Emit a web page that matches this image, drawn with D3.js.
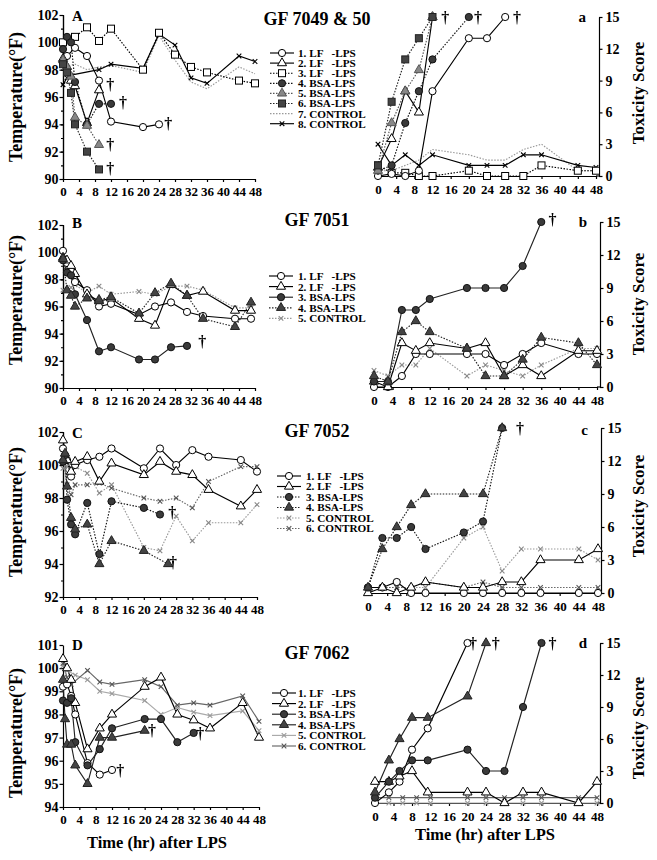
<!DOCTYPE html>
<html><head><meta charset="utf-8">
<script src="https://cdn.jsdelivr.net/npm/d3@7"></script>
<style>body{margin:0;background:#fff}</style>
</head><body><svg id="c" width="657" height="860" xmlns="http://www.w3.org/2000/svg">
<defs><filter id="gray"><feColorMatrix type="saturate" values="0"/></filter></defs>
</svg>
<script>
// ---------- tick labels / text ----------
const hourTicks = [0,4,8,12,16,20,24,28,32,36,40,44,48];
const tempTicksAB = [90,92,94,96,98,100,102];
const tempTicksC = [92,94,96,98,100,102];
const tempTicksD = [94,95,96,97,98,99,100,101];
const toxTicks = [0,3,6,9,12,15];
const titles = ['GF 7049 & 50','GF 7051','GF 7052','GF 7062'];
const letters = [['A','a'],['B','b'],['C','c'],['D','d']];
const legendA = ['1. LF   -LPS','2. LF   -LPS','3. LF   -LPS','4. BSA-LPS','5. BSA-LPS','6. BSA-LPS','7. CONTROL','8. CONTROL'];
const legendB = ['1. LF   -LPS','2. LF   -LPS','3. BSA-LPS','4. BSA-LPS','5. CONTROL'];
const legendC = ['1. LF   -LPS','2. LF   -LPS','3. BSA-LPS','4. BSA-LPS','5. CONTROL','6. CONTROL'];
const legendD = ['1. LF   -LPS','2. LF   -LPS','3. BSA-LPS','4. BSA-LPS','5. CONTROL','6. CONTROL'];

// ---------- GF 7049 & 50 : temperature ----------
const A1 = [[0,98.5],[1,99.0],[3,99.6],[6,99.0],[9,97.2],[12,94.2],[20,93.8],[24,94.0]];
const A2 = [[0,98.8],[1,98.2],[2,97.2],[3,96.8],[6,94.1],[9,96.5]];
const A3 = [[0,100.0],[3,100.4],[6,101.1],[9,100.1],[12,101.0],[20,98.0],[24,100.7],[28,99.1],[32,98.2],[36,97.8],[44,97.2],[48,97.0]];
const A4 = [[0,99.5],[1,100.4],[2,100.0],[3,97.1],[6,94.0],[9,95.5],[12,95.5]];
const A5 = [[0,98.7],[1,98.2],[2,97.5],[3,94.5],[6,93.9],[9,92.5]];
const A6 = [[0,98.4],[1,97.8],[2,96.3],[3,94.0],[6,92.0],[9,90.7]];
const A7 = [[0,98.2],[3,98.4],[6,98.0],[9,98.2],[12,98.3],[20,97.8],[24,100.5],[28,98.7],[32,97.1],[36,96.6],[44,98.2],[48,97.7]];
const A8 = [[0,96.9],[1,97.4],[2,97.6],[9,98.0],[12,98.4],[20,98.1],[24,100.6],[28,99.8],[32,97.4],[36,97.0],[44,99.0],[48,98.6]];
const daggersA = [[11.8,96.9],[15,95.6],[26.3,94.1],[11.8,92.5],[11.8,90.8]];
// ---------- GF 7049 & 50 : toxicity ----------
const toxA1 = [[0,0],[3,0.2],[6,0],[9,0.5],[12,8],[20,13],[24,13],[28,15]];
const toxA2 = [[0,0.8],[3,3.5],[6,8],[9,6],[12,15]];
const toxA3 = [[0,1],[3,0.3],[6,0.3],[9,0],[12,0],[20,0.5],[24,0],[28,0],[32,0],[36,1],[44,0.5],[48,0.5]];
const toxA4 = [[0,0.5],[3,1],[6,5],[9,8],[12,11],[20,15]];
const toxA5 = [[0,0.5],[3,5],[6,8],[9,10],[12,15]];
const toxA6 = [[0,1],[3,7],[6,11],[9,13],[12,15]];
const toxA7 = [[0,0.5],[3,0.5],[6,1],[9,1.5],[12,2.5],[20,2],[24,1.5],[28,1.5],[32,2.5],[36,3],[44,0.5],[48,0.5]];
const toxA8 = [[0,3],[3,1],[6,2],[9,1],[12,2],[20,1],[24,1],[28,1],[32,2],[36,2],[44,1],[48,0.8]];
const daggersToxA = [[14.8,15],[22,15],[30.6,15]];

// ---------- GF 7051 ----------
const B1 = [[0,100.1],[1,99.2],[2,98.6],[3,97.8],[6,97.2],[9,96.0],[12,96.2],[19,95.4],[23,96.0],[27,96.3],[31,95.6],[35,95.3],[43,95.1],[47,95.1]];
const B2 = [[0,99.6],[1,99.4],[2,99.0],[3,98.4],[6,96.9],[9,96.4],[12,96.6],[19,95.1],[23,94.6],[27,97.6],[31,96.8],[35,97.1],[43,95.7],[47,95.7]];
const B3 = [[0,99.4],[1,98.5],[2,98.3],[3,96.9],[6,95.0],[9,92.7],[12,93.0],[19,92.1],[23,92.1],[27,93.0],[31,93.1]];
const B4 = [[0,99.5],[1,97.2],[2,96.8],[3,96.0],[6,96.6],[9,96.5],[12,96.7],[19,95.5],[23,97.0],[27,97.7],[31,96.8],[35,95.1],[43,94.5],[47,96.3]];
const B5 = [[0,97.2],[1,97.2],[2,97.4],[3,97.6],[6,97.0],[9,97.5],[12,96.9],[19,97.1],[23,96.9],[27,97.5],[31,97.5],[35,97.2],[43,95.9],[47,95.9]];
const daggersB = [[34.8,93.4]];
const toxB1 = [[0,0],[3,0],[6,1],[9,3],[12,3],[20,3],[24,3],[28,2],[32,3],[36,4],[44,3],[48,3]];
const toxB2 = [[0,0.5],[3,0],[6,4],[9,3.3],[12,4],[20,3.5],[24,4],[28,1],[32,2],[36,1],[44,3.3],[48,3.3]];
const toxB3 = [[0,0.5],[3,0.5],[6,7],[9,7],[12,8],[20,9],[24,9],[28,9],[32,11],[36,15]];
const toxB4 = [[0,1],[3,0.5],[6,5],[9,6],[12,5],[20,3.5],[24,1],[28,1],[32,2.5],[36,4.5],[44,4],[48,2]];
const toxB5 = [[0,1.5],[3,1],[6,2],[9,2],[12,3.5],[20,1],[24,2],[28,1.5],[32,1],[36,2],[44,3.5],[48,3.5]];
const daggersToxB = [[38.4,15.2]];

// ---------- GF 7052 ----------
const C1 = [[0,101.0],[1,100.3],[2,99.3],[3,100.0],[6,100.3],[9,100.5],[12,101.0],[20,99.8],[24,101.0],[28,100.0],[32,100.9],[36,100.5],[44,100.3],[48,99.6]];
const C2 = [[0,101.5],[1,100.3],[2,99.6],[3,100.2],[6,100.5],[9,99.0],[12,100.1],[20,99.4],[24,100.2],[28,99.6],[32,99.4],[36,98.5],[44,97.5],[48,98.5]];
const C3 = [[0,100.2],[0.5,100.6],[1,97.9],[2,96.4],[3,95.8],[6,97.7],[9,94.6],[12,97.8],[20,97.4],[24,97.0]];
const C4 = [[0,100.3],[0.5,100.7],[1,98.7],[2,96.8],[3,96.1],[6,96.4],[9,94.0],[12,95.4],[20,94.8],[26,94.0]];
const C5 = [[0,99.8],[1,99.9],[2,99.7],[3,99.9],[6,99.5],[9,98.3],[12,98.8],[20,95.0],[24,94.8],[28,96.9],[32,95.4],[36,96.5],[44,96.5],[48,97.6]];
const C6 = [[0,100.4],[1,98.8],[2,98.2],[3,98.8],[6,98.8],[9,98.9],[12,98.6],[20,98.0],[24,97.8],[28,98.0],[32,97.4],[36,99.0],[44,99.9],[48,99.9]];
const daggersC = [[27,97.1],[27.2,94.1]];
const toxC1 = [[0,0.5],[3,0.5],[6,1],[9,0],[12,0],[20,0],[24,0],[28,0],[32,0],[36,0],[44,0],[48,0]];
const toxC2 = [[0,0],[3,0.5],[6,0],[9,0.5],[12,1],[20,0.5],[24,0.5],[28,1],[32,1],[36,3],[44,3],[48,4]];
const toxC3 = [[0,0.5],[3,5],[6,5],[9,6],[12,4],[20,5.5],[24,6.5],[28,15]];
const toxC4 = [[0,0.5],[3,4],[6,6],[9,8],[12,9],[20,9],[24,9],[28,15]];
const toxC5 = [[0,0.5],[3,0.5],[6,0.5],[9,0.5],[12,0.5],[20,5],[24,6],[28,2],[32,4],[36,4],[44,4],[48,3]];
const toxC6 = [[0,0.5],[3,0.5],[6,0.5],[9,0.5],[12,1],[20,0.5],[24,1],[28,0.5],[32,0.5],[36,0.5],[44,0.5],[48,0.5]];
const daggersToxC = [[31.7,15]];

// ---------- GF 7062 ----------
const D1 = [[0,99.2],[1,99.3],[2,98.8],[3,98.0],[6,95.9],[9,95.4],[12,95.6]];
const D2 = [[0,100.4],[1,100.0],[2,99.5],[3,98.5],[6,96.5],[9,97.4],[12,98.0],[20,99.2],[24,99.6],[28,98.0],[32,97.75],[36,97.4],[44,98.5],[48,97.0]];
const D3 = [[0,98.6],[1,98.5],[2,98.7],[3,96.8],[6,95.8],[9,96.5],[12,97.4],[20,97.8],[24,97.8],[28,96.8],[32,97.2]];
const D4 = [[0,99.5],[0.5,97.8],[1,96.7],[2,96.7],[3,95.8],[6,95.0],[9,97.0],[12,97.0],[20,97.3]];
const D5 = [[0,100.1],[1,99.9],[3,99.7],[6,99.5],[9,99.0],[12,98.9],[20,98.6],[24,98.0],[28,98.3],[32,98.1],[36,97.95],[44,98.15],[48,97.3]];
const D6 = [[0,100.2],[1,99.6],[2,99.3],[6,99.9],[9,99.4],[12,99.3],[20,99.5],[24,99.2],[28,98.4],[32,98.5],[36,98.4],[44,98.8],[48,97.7]];
const daggersD = [[14,95.6],[21.8,97.3],[33.6,97.2]];
const toxD1 = [[0,0],[3,1],[5.3,2],[8,5],[11.4,7],[20,15]];
const toxD2 = [[0,2],[3,2],[5.3,2.5],[8,3],[11.4,1],[20,1],[24,1],[28,0],[32,1],[36,1],[44,0],[48,2]];
const toxD3 = [[0,0.5],[3,2],[5.3,3],[8,4],[11.4,4],[20,5],[24,3],[28,3],[32,9],[36,15]];
const toxD4 = [[0,1],[3,4],[5.3,6],[8,8],[11.4,8],[20,10],[24,15]];
const toxD5 = [[0,0],[3,0],[6,0],[9,0],[12,0],[20,0],[24,0],[28,0],[32,0],[36,0],[44,0],[48,0]];
const toxD6 = [[0,0.5],[3,0.5],[6,0.5],[9,0.5],[12,0.5],[20,0.5],[24,0.5],[28,0.5],[32,0.5],[36,0.5],[44,0.5],[48,0.5]];
const daggersToxD = [[21.2,15],[26.1,15],[38.4,15]];

// ---------- drawing ----------
const svg = d3.select('#c');
const SERIF = "'Liberation Serif','Times New Roman',serif";

const ST = {
  circOpen:{m:'circle',fill:'#fff',stroke:'#000',line:'#000',dash:null},
  triOpen:{m:'tri',fill:'#fff',stroke:'#000',line:'#000',dash:null},
  sqOpenDot:{m:'square',fill:'#fff',stroke:'#000',line:'#000',dash:'1.5,1.5'},
  circFillDot:{m:'circle',fill:'#3a3a3a',stroke:'#111',line:'#111',dash:'1.5,1.5'},
  circFill:{m:'circle',fill:'#3a3a3a',stroke:'#111',line:'#222',dash:null},
  triGrayDot:{m:'tri',fill:'#888',stroke:'#555',line:'#555',dash:'1.5,1.5'},
  triFillDot:{m:'tri',fill:'#444',stroke:'#222',line:'#222',dash:'1.5,1.5'},
  triFill:{m:'tri',fill:'#444',stroke:'#222',line:'#222',dash:null},
  sqFillDot:{m:'square',fill:'#444',stroke:'#222',line:'#222',dash:'1.5,1.5'},
  grayDot:{m:null,line:'#999',dash:'1.5,1.5'},
  xBlack:{m:'x',stroke:'#000',line:'#000',dash:null},
  xLightDot:{m:'x',stroke:'#888',line:'#999',dash:'1.5,1.5'},
  xLight:{m:'x',stroke:'#999',line:'#aaa',dash:null},
  xGray:{m:'x',stroke:'#555',line:'#666',dash:null},
  xLightDotC:{m:'x',stroke:'#888',line:'#999',dash:'1.5,1.5'},
  xGrayDotC:{m:'x',stroke:'#555',line:'#666',dash:'1.5,1.5'}
};

function marker(g, cx, cy, st){
  if(!st.m) return;
  if(st.m==='circle'){
    g.append('circle').attr('cx',cx).attr('cy',cy).attr('r',3.6)
      .attr('fill',st.fill).attr('stroke',st.stroke).attr('stroke-width',1);
  } else if(st.m==='square'){
    g.append('rect').attr('x',cx-3.5).attr('y',cy-3.5).attr('width',7).attr('height',7)
      .attr('fill',st.fill).attr('stroke',st.stroke).attr('stroke-width',1);
  } else if(st.m==='tri'){
    g.append('path').attr('d',d3.symbol(d3.symbolTriangle,36)())
      .attr('transform',`translate(${cx},${cy})`)
      .attr('fill',st.fill).attr('stroke',st.stroke).attr('stroke-width',1);
  } else if(st.m==='x'){
    g.append('path').attr('d','M-2.3,-2.3L2.3,2.3M-2.3,2.3L2.3,-2.3')
      .attr('transform',`translate(${cx},${cy})`)
      .attr('fill','none').attr('stroke',st.stroke).attr('stroke-width',1.1);
  }
}

function styleAxis(g, fs){
  g.selectAll('text').attr('font-family',SERIF).attr('font-weight','bold')
    .attr('font-size',fs).attr('fill','#000');
  g.selectAll('line,path').attr('stroke','#000').attr('stroke-width',1.2);
}

function drawSeries(x, y, list){
  const gl = svg.append('g');
  list.forEach(([data, st])=>{
    const s = ST[st];
    gl.append('path').datum(data)
      .attr('d', d3.line().x(d=>x(d[0])).y(d=>y(d[1])))
      .attr('fill','none').attr('stroke',s.line).attr('stroke-width',1.15)
      .attr('stroke-dasharray', s.dash);
  });
  const gm = svg.append('g');
  list.forEach(([data, st])=>{
    data.forEach(d=>marker(gm, x(d[0]), y(d[1]), ST[st]));
  });
}

function daggers(x, y, pts){
  svg.append('g').attr('filter','url(#gray)').selectAll('text').data(pts).join('text')
    .attr('x',d=>x(d[0])).attr('y',d=>y(d[1])).attr('dy','0.35em')
    .attr('text-anchor','middle').attr('font-family',SERIF).attr('font-size',16)
    .attr('font-weight','bold').attr('fill','#000')
    .text('\u2020');
}

function leftPanel(cfg){
  const x = d3.scaleLinear().domain([0,48]).range([cfg.x0,cfg.x1]);
  const y = d3.scaleLinear().domain(cfg.dom).range([cfg.yb,cfg.yt]);
  const gx = svg.append('g').attr('transform',`translate(0,${cfg.yb})`)
    .call(d3.axisBottom(x).tickValues(hourTicks).tickSize(3).tickSizeOuter(0).tickPadding(5));
  styleAxis(gx,13);
  if(cfg.minor){
    const gm = svg.append('g').attr('transform',`translate(${cfg.x0},0)`)
      .call(d3.axisLeft(y).tickValues(d3.range(cfg.dom[0],cfg.dom[1]+1,1)).tickSize(2).tickFormat(''));
    styleAxis(gm,13);
  }
  const gy = svg.append('g').attr('transform',`translate(${cfg.x0},0)`)
    .call(d3.axisLeft(y).tickValues(cfg.ticks).tickSize(3.5).tickSizeOuter(0).tickPadding(1).tickFormat(d3.format('d')));
  styleAxis(gy,14);
  svg.append('text').attr('transform',`translate(16,${cfg.ty}) rotate(-90)`)
    .attr('text-anchor','middle').attr('dy','0.35em').attr('font-family',SERIF)
    .attr('font-weight','bold').attr('font-size',18).text('Temperature(\u00B0F)');
  svg.append('text').attr('x',cfg.x0+9).attr('y',cfg.letterY).attr('font-family',SERIF)
    .attr('font-weight','bold').attr('font-size',15).text(cfg.letter);
  drawSeries(x,y,cfg.series);
  daggers(x,y,cfg.daggers);
}

function rightPanel(cfg){
  const x = d3.scaleLinear().domain([0,48]).range([cfg.x0,cfg.x1]);
  const y = d3.scaleLinear().domain([0,15]).range([cfg.yb,cfg.yt]);
  const ax = cfg.x1+3;
  const gx = svg.append('g').attr('transform',`translate(0,${cfg.yb})`)
    .call(d3.axisBottom(x).tickValues(hourTicks).tickSize(3).tickSizeOuter(0).tickPadding(6));
  styleAxis(gx,13);
  svg.append('line').attr('x1',cfg.x1).attr('x2',ax).attr('y1',cfg.yb).attr('y2',cfg.yb)
    .attr('stroke','#000').attr('stroke-width',1.2);
  const gy = svg.append('g').attr('transform',`translate(${ax},0)`)
    .call(d3.axisRight(y).tickValues(toxTicks).tickSize(3.5).tickSizeOuter(0).tickPadding(3));
  styleAxis(gy,14);
  svg.append('text').attr('transform',`translate(638,${cfg.ty}) rotate(-90)`)
    .attr('text-anchor','middle').attr('dy','0.35em').attr('font-family',SERIF)
    .attr('font-weight','bold').attr('font-size',17).text('Toxicity Score');
  svg.append('text').attr('x',ax-13).attr('y',cfg.letterY).attr('text-anchor','end')
    .attr('font-family',SERIF).attr('font-weight','bold').attr('font-size',15).text(cfg.letter);
  drawSeries(x,y,cfg.series);
  daggers(x,y,cfg.daggers);
}

function legend(cfg){
  const g = svg.append('g');
  cfg.labels.forEach((lab,i)=>{
    const yy = cfg.y0 + i*cfg.dy;
    const s = ST[cfg.styles[i]];
    g.append('line').attr('x1',cfg.x).attr('x2',cfg.x+24).attr('y1',yy).attr('y2',yy)
      .attr('stroke',s.line).attr('stroke-width',1.15).attr('stroke-dasharray',s.dash);
    marker(g, cfg.x+12, yy, s);
    g.append('text').attr('x',cfg.tx).attr('y',yy).attr('dy','0.35em')
      .attr('font-family',SERIF).attr('font-weight','bold').attr('font-size',11.2)
      .style('white-space','pre').text(lab);
  });
}

function title(t, yBase){
  svg.append('text').attr('x',317).attr('y',yBase).attr('text-anchor','middle')
    .attr('font-family',SERIF).attr('font-weight','bold').attr('font-size',18).text(t);
}

// ---- Row 1 ----
const stA = ['circOpen','triOpen','sqOpenDot','circFillDot','triGrayDot','sqFillDot','grayDot','xBlack'];
leftPanel({x0:63,x1:255,yb:179,yt:15,dom:[90,102],ticks:tempTicksAB,minor:true,ty:97,letter:letters[0][0],letterY:21,
  series:[[A7,stA[6]],[A8,stA[7]],[A3,stA[2]],[A1,stA[0]],[A2,stA[1]],[A4,stA[3]],[A5,stA[4]],[A6,stA[5]]],daggers:daggersA});
rightPanel({x0:378,x1:596,yb:176,yt:17,ty:93,letter:letters[0][1],letterY:22,
  series:[[toxA7,stA[6]],[toxA8,stA[7]],[toxA3,stA[2]],[toxA1,stA[0]],[toxA2,stA[1]],[toxA4,stA[3]],[toxA5,stA[4]],[toxA6,stA[5]]],daggers:daggersToxA});
title(titles[0],25);
legend({labels:legendA,styles:stA,x:270,tx:298,y0:53,dy:10.1});

// ---- Row 2 ----
const stB = ['circOpen','triOpen','circFill','triFillDot','xLightDot'];
leftPanel({x0:63,x1:255,yb:388,yt:225,dom:[90,102],ticks:tempTicksAB,minor:true,ty:300,letter:letters[1][0],letterY:228,
  series:[[B5,stB[4]],[B1,stB[0]],[B2,stB[1]],[B3,stB[2]],[B4,stB[3]]],daggers:daggersB});
rightPanel({x0:374,x1:597,yb:387,yt:222,ty:304,letter:letters[1][1],letterY:227,
  series:[[toxB5,stB[4]],[toxB1,stB[0]],[toxB2,stB[1]],[toxB3,stB[2]],[toxB4,stB[3]]],daggers:daggersToxB});
title(titles[1],226);
legend({labels:legendB,styles:stB,x:269,tx:298,y0:276,dy:10.6});

// ---- Row 3 ----
const stC = ['circOpen','triOpen','circFillDot','triFillDot','xLightDotC','xGrayDotC'];
leftPanel({x0:63,x1:257,yb:597,yt:432,dom:[92,102],ticks:tempTicksC,minor:true,ty:512,letter:letters[2][0],letterY:438,
  series:[[C5,stC[4]],[C6,stC[5]],[C1,stC[0]],[C2,stC[1]],[C3,stC[2]],[C4,stC[3]]],daggers:daggersC});
rightPanel({x0:368,x1:598,yb:593,yt:428,ty:506,letter:letters[2][1],letterY:435,
  series:[[toxC5,stC[4]],[toxC6,stC[5]],[toxC1,stC[0]],[toxC2,stC[1]],[toxC3,stC[2]],[toxC4,stC[3]]],daggers:daggersToxC});
title(titles[2],437);
legend({labels:legendC,styles:stC,x:277,tx:306,y0:476,dy:10.5});

// ---- Row 4 ----
const stD = ['circOpen','triOpen','circFill','triFill','xLight','xGray'];
leftPanel({x0:63,x1:259,yb:807,yt:645,dom:[94,101],ticks:tempTicksD,minor:false,ty:733,letter:letters[3][0],letterY:650,
  series:[[D5,stD[4]],[D6,stD[5]],[D1,stD[0]],[D2,stD[1]],[D3,stD[2]],[D4,stD[3]]],daggers:daggersD});
rightPanel({x0:375,x1:597,yb:803,yt:643,ty:728,letter:letters[3][1],letterY:648,
  series:[[toxD5,stD[4]],[toxD6,stD[5]],[toxD1,stD[0]],[toxD2,stD[1]],[toxD3,stD[2]],[toxD4,stD[3]]],daggers:daggersToxD});
title(titles[3],659);
legend({labels:legendD,styles:stD,x:272,tx:298,y0:693,dy:10.6});

// x-axis titles
svg.append('text').attr('x',157).attr('y',848).attr('text-anchor','middle').attr('font-family',SERIF)
  .attr('font-weight','bold').attr('font-size',16.5).text('Time (hr) after LPS');
svg.append('text').attr('x',485).attr('y',840).attr('text-anchor','middle').attr('font-family',SERIF)
  .attr('font-weight','bold').attr('font-size',16.5).text('Time (hr) after LPS');
</script></body></html>
